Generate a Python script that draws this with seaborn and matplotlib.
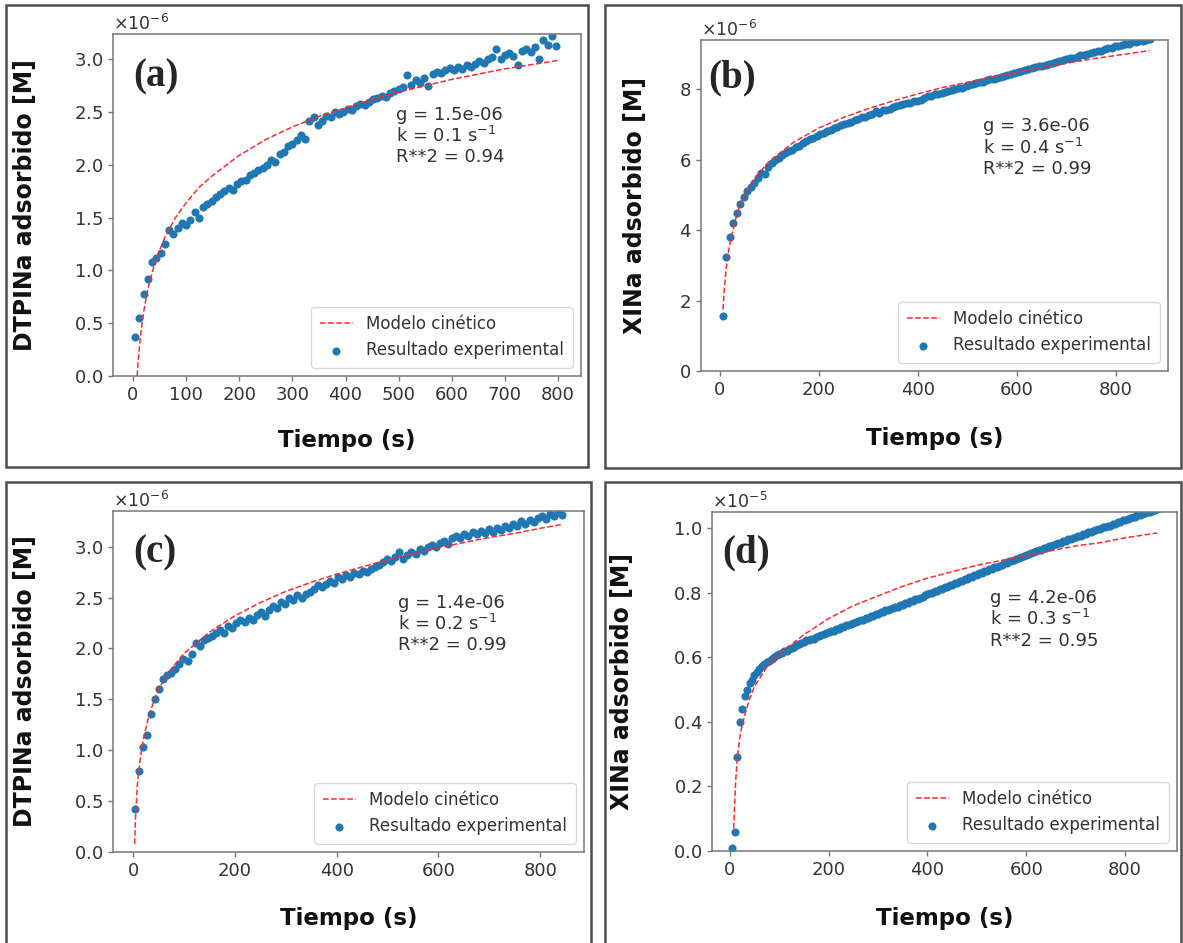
import numpy as np
import pandas as pd
import seaborn as sns
import matplotlib.pyplot as plt
from matplotlib.patches import Rectangle
from matplotlib.ticker import MultipleLocator

# ---- data (concentrations in units of the axis offset: 1e-6 M, panel d in 1e-5 M) ----
# (a) DTPINa, sampled every 8 s from t = 4 s
ads_a = [0.37, 0.55, 0.78, 0.92, 1.08, 1.12, 1.17, 1.25, 1.38, 1.35,
         1.40, 1.45, 1.43, 1.48, 1.55, 1.50, 1.60, 1.63, 1.66, 1.70,
         1.72, 1.75, 1.78, 1.76, 1.82, 1.85, 1.86, 1.90, 1.92, 1.95,
         1.97, 2.00, 2.05, 2.03, 2.10, 2.12, 2.18, 2.20, 2.24, 2.28,
         2.25, 2.42, 2.45, 2.38, 2.42, 2.46, 2.45, 2.50, 2.48, 2.50,
         2.53, 2.52, 2.56, 2.58, 2.57, 2.60, 2.62, 2.63, 2.65, 2.64,
         2.68, 2.70, 2.72, 2.74, 2.85, 2.76, 2.80, 2.78, 2.82, 2.75,
         2.86, 2.88, 2.87, 2.90, 2.92, 2.90, 2.93, 2.91, 2.95, 2.93,
         2.96, 2.98, 2.97, 3.00, 3.02, 3.10, 3.00, 3.04, 3.06, 3.03,
         2.95, 3.08, 3.10, 3.07, 3.12, 3.00, 3.18, 3.14, 3.22, 3.13]
mod_t_a = [8, 10, 12, 15, 20, 25, 30, 40, 50, 60, 80, 100, 125, 150, 200,
           250, 300, 350, 400, 450, 500, 550, 600, 650, 700, 750, 800]
mod_a = [0.00, 0.15, 0.26, 0.41, 0.60, 0.74, 0.86, 1.05, 1.19, 1.31, 1.50, 1.64, 1.79,
         1.90, 2.09, 2.24, 2.36, 2.46, 2.54, 2.62, 2.69, 2.75, 2.81, 2.86, 2.91, 2.95, 2.99]

# (b) XINa, sampled every 7 s from t = 7 s
ads_b = [1.55, 3.25, 3.80, 4.20, 4.50, 4.75, 4.95, 5.10, 5.22, 5.35,
         5.48, 5.62, 5.60, 5.78, 5.90, 5.98, 6.05, 6.12, 6.18, 6.25,
         6.28, 6.35, 6.40, 6.48, 6.52, 6.58, 6.62, 6.68, 6.72, 6.76,
         6.82, 6.85, 6.90, 6.93, 6.98, 7.02, 7.05, 7.08, 7.12, 7.15,
         7.20, 7.22, 7.28, 7.30, 7.38, 7.34, 7.40, 7.42, 7.45, 7.50,
         7.52, 7.55, 7.58, 7.60, 7.62, 7.66, 7.68, 7.70, 7.76, 7.80,
         7.82, 7.86, 7.88, 7.90, 7.93, 7.95, 7.98, 8.00, 8.03, 8.05,
         8.10, 8.12, 8.15, 8.18, 8.20, 8.22, 8.25, 8.28, 8.30, 8.33,
         8.36, 8.38, 8.40, 8.44, 8.46, 8.50, 8.52, 8.55, 8.57, 8.60,
         8.62, 8.65, 8.66, 8.70, 8.72, 8.75, 8.78, 8.80, 8.82, 8.85,
         8.88, 8.90, 8.92, 8.96, 8.98, 9.00, 9.03, 9.05, 9.08, 9.10,
         9.14, 9.16, 9.18, 9.22, 9.24, 9.26, 9.28, 9.30, 9.33, 9.35,
         9.36, 9.38, 9.40, 9.42]
mod_t_b = [7, 10, 15, 20, 30, 40, 50, 75, 100, 150, 200, 250, 300, 350, 400,
           450, 500, 550, 600, 650, 700, 750, 800, 868]
mod_b = [1.75, 2.40, 3.10, 3.55, 4.20, 4.65, 5.00, 5.55, 5.95, 6.50, 6.90, 7.20, 7.45,
         7.67, 7.87, 8.05, 8.20, 8.35, 8.49, 8.62, 8.74, 8.86, 8.96, 9.10]

# (c) DTPINa, sampled every 8 s from t = 3 s
ads_c = [0.42, 0.80, 1.03, 1.15, 1.36, 1.50, 1.60, 1.70, 1.74, 1.76,
         1.80, 1.85, 1.90, 1.88, 1.95, 2.05, 2.02, 2.08, 2.10, 2.12,
         2.15, 2.18, 2.15, 2.22, 2.20, 2.25, 2.28, 2.26, 2.30, 2.28,
         2.33, 2.36, 2.32, 2.38, 2.42, 2.40, 2.46, 2.44, 2.50, 2.48,
         2.52, 2.50, 2.53, 2.55, 2.58, 2.62, 2.60, 2.63, 2.66, 2.64,
         2.70, 2.68, 2.72, 2.70, 2.74, 2.73, 2.76, 2.75, 2.78, 2.80,
         2.82, 2.85, 2.88, 2.86, 2.90, 2.95, 2.88, 2.92, 2.95, 2.93,
         2.98, 2.96, 3.00, 3.02, 3.00, 3.04, 3.06, 3.03, 3.08, 3.10,
         3.08, 3.12, 3.10, 3.14, 3.12, 3.15, 3.13, 3.17, 3.14, 3.18,
         3.16, 3.20, 3.18, 3.22, 3.20, 3.25, 3.22, 3.26, 3.24, 3.28,
         3.30, 3.27, 3.32, 3.30, 3.34, 3.31]
mod_t_c = [3, 5, 8, 10, 15, 20, 30, 40, 50, 75, 100, 150, 200, 250, 300, 350, 400,
           450, 500, 550, 600, 650, 700, 750, 800, 845]
mod_c = [0.08, 0.35, 0.62, 0.75, 0.95, 1.10, 1.32, 1.47, 1.60, 1.80, 1.95, 2.16, 2.32,
         2.45, 2.56, 2.65, 2.73, 2.80, 2.87, 2.93, 2.99, 3.04, 3.09, 3.13, 3.18, 3.22]

# (d) XINa, sampled every 5 s from t = 5 s (units of 1e-5 M)
ads_d = [0.010, 0.060, 0.290, 0.400, 0.440, 0.480, 0.500, 0.520, 0.530, 0.545,
         0.555, 0.565, 0.572, 0.580, 0.585, 0.590, 0.596, 0.600, 0.606, 0.610,
         0.614, 0.620, 0.620, 0.626, 0.630, 0.631, 0.638, 0.640, 0.644, 0.646,
         0.652, 0.652, 0.658, 0.658, 0.664, 0.665, 0.670, 0.671, 0.675, 0.677,
         0.682, 0.682, 0.688, 0.688, 0.694, 0.694, 0.699, 0.700, 0.704, 0.706,
         0.710, 0.712, 0.716, 0.716, 0.722, 0.722, 0.728, 0.728, 0.734, 0.735,
         0.739, 0.740, 0.745, 0.746, 0.750, 0.752, 0.756, 0.757, 0.762, 0.763,
         0.767, 0.768, 0.774, 0.774, 0.779, 0.780, 0.785, 0.786, 0.792, 0.795,
         0.799, 0.800, 0.806, 0.806, 0.812, 0.812, 0.817, 0.818, 0.824, 0.825,
         0.830, 0.830, 0.836, 0.836, 0.842, 0.843, 0.848, 0.850, 0.854, 0.856,
         0.860, 0.862, 0.867, 0.868, 0.872, 0.874, 0.879, 0.880, 0.884, 0.886,
         0.891, 0.892, 0.897, 0.898, 0.902, 0.904, 0.908, 0.910, 0.914, 0.916,
         0.920, 0.922, 0.926, 0.928, 0.932, 0.933, 0.938, 0.938, 0.944, 0.944,
         0.949, 0.950, 0.954, 0.955, 0.960, 0.960, 0.965, 0.966, 0.970, 0.972,
         0.976, 0.977, 0.982, 0.982, 0.987, 0.988, 0.992, 0.993, 0.998, 0.998,
         1.002, 1.003, 1.008, 1.008, 1.013, 1.014, 1.018, 1.019, 1.024, 1.024,
         1.029, 1.030, 1.034, 1.035, 1.040, 1.040, 1.045, 1.046, 1.050, 1.051,
         1.054, 1.056, 1.058, 1.061]
mod_t_d = [8, 10, 12, 15, 20, 25, 30, 40, 50, 75, 100, 150, 200, 250, 300, 350, 400,
           450, 500, 550, 600, 650, 700, 750, 800, 865]
mod_d = [0.07, 0.15, 0.22, 0.28, 0.35, 0.39, 0.42, 0.47, 0.51, 0.57, 0.61, 0.67, 0.72,
         0.76, 0.79, 0.82, 0.845, 0.865, 0.885, 0.90, 0.915, 0.93, 0.945, 0.955, 0.97, 0.985]

sns.set_style("ticks")
plt.rcParams['font.family'] = ['DejaVu Sans']

fig = plt.figure(figsize=(11.83, 9.43), dpi=100)
W, H = 1183, 943

def px_axes(left, right, top, bottom):
    return fig.add_axes([left / W, (H - bottom) / H, (right - left) / W, (bottom - top) / H])

def frame(left, right, top, bottom):
    fig.patches.append(Rectangle((left / W, (H - bottom) / H), (right - left) / W, (bottom - top) / H,
                                 transform=fig.transFigure, fill=False, edgecolor='#4d4d4d', lw=1.8))

panels = [
    dict(pos=(112.7, 581, 34, 376), box=(6, 588, 5, 467), ads=ads_a, t0=4, dt=8, mt=mod_t_a, mv=mod_a,
         scale=1e-6, xlim=(-38, 843), ylim=3.24, xstep=100, tag='(a)', tagpos=(0.043, 0.874),
         ylabel='DTPINa adsorbido [M]', ylab_x=-0.162, xlab_y=-0.155,
         txt='g = 1.5e-06\nk = 0.1 s$^{-1}$\nR**2 = 0.94', txtpos=(0.605, 0.79)),
    dict(pos=(700.7, 1168, 40, 371), box=(605, 1181, 5, 468), ads=ads_b, t0=7, dt=7, mt=mod_t_b, mv=mod_b,
         scale=1e-6, xlim=(-38, 905), ylim=9.4, xstep=200, tag='(b)', tagpos=(0.016, 0.885),
         ylabel='XINa adsorbido [M]', ylab_x=-0.115, xlab_y=-0.17,
         txt='g = 3.6e-06\nk = 0.4 s$^{-1}$\nR**2 = 0.99', txtpos=(0.605, 0.767)),
    dict(pos=(112.7, 584, 511, 852), box=(6, 591, 482, 946), ads=ads_c, t0=3, dt=8, mt=mod_t_c, mv=mod_c,
         scale=1e-6, xlim=(-40, 886), ylim=3.35, xstep=200, tag='(c)', tagpos=(0.043, 0.877),
         ylabel='DTPINa adsorbido [M]', ylab_x=-0.161, xlab_y=-0.161,
         txt='g = 1.4e-06\nk = 0.2 s$^{-1}$\nR**2 = 0.99', txtpos=(0.605, 0.757)),
    dict(pos=(712, 1177, 512, 851), box=(605, 1181, 482, 946), ads=ads_d, t0=5, dt=5, mt=mod_t_d, mv=mod_d,
         scale=1e-5, xlim=(-36, 905), ylim=1.05, xstep=200, tag='(d)', tagpos=(0.022, 0.879),
         ylabel='XINa adsorbido [M]', ylab_x=-0.168, xlab_y=-0.165,
         txt='g = 4.2e-06\nk = 0.3 s$^{-1}$\nR**2 = 0.95', txtpos=(0.598, 0.773)),
]

for p in panels:
    frame(*p['box'])
    ax = px_axes(*p['pos'])
    t_exp = p['t0'] + p['dt'] * np.arange(len(p['ads']))
    exp_df = pd.DataFrame({'t': t_exp, 'q': np.array(p['ads']) * p['scale']})
    mod_df = pd.DataFrame({'t': p['mt'], 'q': np.array(p['mv']) * p['scale']})

    sns.lineplot(data=mod_df, x='t', y='q', ax=ax, color='#ff2a2a', linestyle='--', lw=1.1,
                 label='Modelo cinético')
    sns.scatterplot(data=exp_df, x='t', y='q', ax=ax, color='#1f77b4', s=34, linewidth=0,
                    label='Resultado experimental')

    ax.set_xlim(*p['xlim'])
    ax.set_ylim(0, p['ylim'] * p['scale'])
    ax.xaxis.set_major_locator(MultipleLocator(p['xstep']))
    ax.ticklabel_format(axis='y', style='sci', scilimits=(0, 0), useMathText=True)
    ax.yaxis.get_offset_text().set_fontsize(12.5)
    ax.yaxis.get_offset_text().set_color('#333333')

    for s in ax.spines.values():
        s.set_color('#777777')
        s.set_linewidth(1.1)
    ax.tick_params(labelsize=13, colors='#777777', labelcolor='#333333', length=3.5, width=1)

    ax.set_xlabel('Tiempo (s)', fontsize=16.5, fontweight='bold', color='#111111')
    ax.set_ylabel(p['ylabel'], fontsize=17, fontweight='bold', color='#111111')
    ax.xaxis.set_label_coords(0.5, p['xlab_y'])
    ax.yaxis.set_label_coords(p['ylab_x'], 0.5)

    ax.text(*p['tagpos'], p['tag'], transform=ax.transAxes, fontsize=28, fontweight='bold',
            family=['Liberation Serif', 'DejaVu Serif'], va='center', ha='left')
    ax.text(*p['txtpos'], p['txt'], transform=ax.transAxes, fontsize=13, color='#333333',
            va='top', ha='left', linespacing=1.15)

    leg = ax.legend(loc='lower right', fontsize=12, frameon=True, borderpad=0.5)
    leg.get_frame().set_edgecolor('#d0d0d0')
    for txt in leg.get_texts():
        txt.set_color('#333333')

fig.savefig('out.png', dpi=100, facecolor='white')
